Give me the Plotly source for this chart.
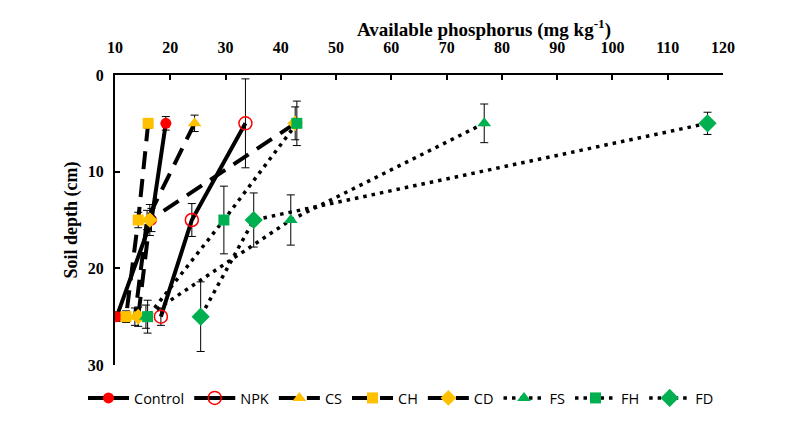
import plotly.graph_objects as go

depth = [5, 15, 25]

control = [19.2, 16.6, 10.3]
control_err = [0.7, 1.2, 0.5]
npk = [33.6, 23.9, 18.3]
npk_err = [4.6, 1.7, 0.9]
cs = [24.4, 15.8, 13.6]
cs_err = [0.85, 1.0, 0.9]
ch = [16.0, 14.2, 12.0]
ch_err = [0.5, 0.8, 0.6]
cd = [42.6, 16.3, 14.2]
cd_err = [1.7, 1.6, 1.0]
fs = [76.8, 41.8, 15.6]
fs_err = [2.0, 2.6, 1.2]
fh = [42.9, 29.7, 15.9]
fh_err = [2.3, 3.5, 1.7]
fd = [117.2, 35.1, 25.5]
fd_err = [1.15, 2.8, 3.6]

RED = "#FF0000"
YEL = "#FFC000"
GRN = "#00B050"

series = [
    ("Control", control, control_err, "solid", dict(symbol="circle", color=RED, size=11)),
    ("NPK", npk, npk_err, "solid", dict(symbol="circle-open", color=RED, size=13, line=dict(width=1.5, color=RED))),
    ("CS", cs, cs_err, "dash", dict(symbol="triangle-up", color=YEL, size=12)),
    ("CH", ch, ch_err, "dash", dict(symbol="square", color=YEL, size=11)),
    ("CD", cd, cd_err, "dash", dict(symbol="diamond", color=YEL, size=12)),
    ("FS", fs, fs_err, "dot", dict(symbol="triangle-up", color=GRN, size=12)),
    ("FH", fh, fh_err, "dot", dict(symbol="square", color=GRN, size=11)),
    ("FD", fd, fd_err, "dot", dict(symbol="diamond", color=GRN, size=14)),
]

DASHES = {"solid": "solid", "dash": "18px,10px", "dot": "3.5px,5px"}

fig = go.Figure()
for name, xs, errs, dash, marker in series:
    fig.add_trace(go.Scatter(
        x=xs, y=depth, name=name, mode="lines+markers",
        line=dict(color="black", width=4 if dash != "dot" else 3.5, dash=DASHES[dash]),
        marker=marker,
        error_y=dict(type="data", array=errs, color="black", thickness=1, width=4),
    ))

# page body has an 8px margin; figure is sized to fill the rest of the window
W, H = 792, 413
L, R, T, B = 107, 77, 67, 56
PW, PH = W - L - R, H - T - B
serif = "Liberation Serif"
fig.update_layout(
    width=W, height=H,
    margin=dict(l=L, r=R, t=T, b=B, autoexpand=False),
    paper_bgcolor="white", plot_bgcolor="white",
    showlegend=True,
    legend=dict(orientation="h", x=(75 - L) / PW, xanchor="left",
                y=(H - B - 390) / PH, yanchor="middle",
                itemwidth=41,
                font=dict(family="Open Sans", size=14.5, color="black"),
                tracegroupgap=0, bgcolor="rgba(0,0,0,0)"),
    xaxis=dict(side="top", range=[10, 120], tickvals=list(range(10, 121, 10)),
               showline=True, linecolor="black", linewidth=2, mirror=False,
               ticks="inside", ticklen=5, tickcolor="black", tickwidth=2,
               ticklabelstandoff=14,
               showgrid=False, zeroline=False,
               tickfont=dict(family=serif, size=16, color="black", weight="bold")),
    yaxis=dict(range=[30, 0], tickvals=[0, 10, 20, 30],
               showline=True, linecolor="black", linewidth=2,
               ticks="inside", ticklen=5, tickcolor="black", tickwidth=2,
               ticklabelstandoff=6,
               showgrid=False, zeroline=False,
               tickfont=dict(family=serif, size=16, color="black", weight="bold"),
               title=dict(text="Soil depth (cm)", standoff=5,
                          font=dict(family=serif, size=18, color="black", weight="bold"))),
    annotations=[dict(text="Available phosphorus (mg kg<sup>-1</sup>)",
                      x=(476 - L) / PW, xref="paper", xanchor="center",
                      y=(H - B - 21) / PH, yref="paper", yanchor="middle",
                      showarrow=False,
                      font=dict(family=serif, size=19, color="black", weight="bold"))],
)

fig.write_html("out.html")
